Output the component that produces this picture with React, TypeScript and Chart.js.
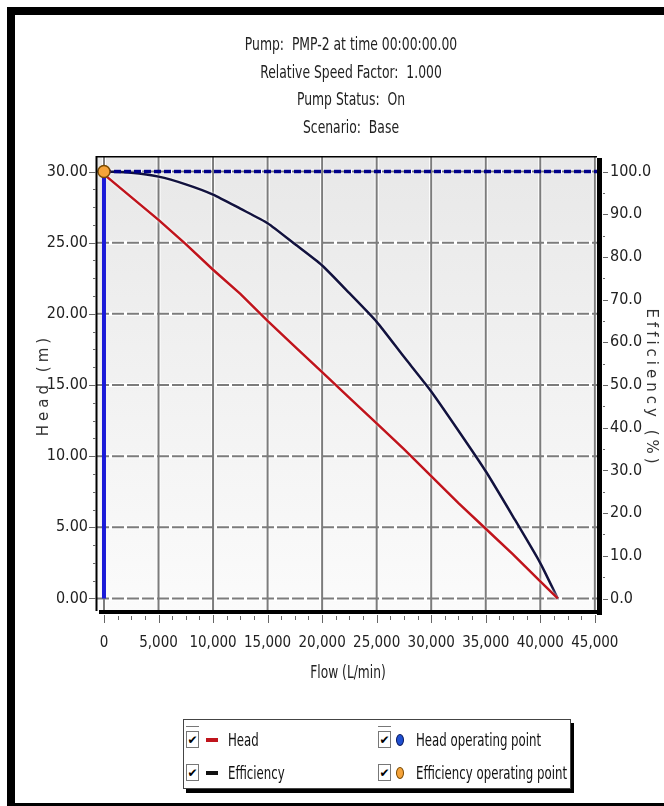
import React, { useEffect, useRef } from "react";
import { Chart, registerables } from "chart.js";

Chart.register(...registerables);

const titleLines = [
  "Pump:  PMP-2 at time 00:00:00.00",
  "Relative Speed Factor:  1.000",
  "Pump Status:  On",
  "Scenario:  Base",
];

const flowValues = [0, 2500, 5000, 7500, 10000, 12500, 15000, 17500, 20000, 22500, 25000, 27500, 30000, 32500, 35000, 37500, 40000, 41600];
const headValues = [29.8, 28.2, 26.6, 24.9, 23.1, 21.4, 19.5, 17.7, 15.9, 14.1, 12.3, 10.5, 8.6, 6.7, 4.9, 3.1, 1.2, 0];
const efficiencyValues = [100, 99.7, 98.8, 97.0, 94.6, 91.3, 87.9, 83.0, 78.0, 71.5, 64.8, 56.6, 48.5, 39.3, 29.8, 19.2, 8.3, 0];

const operatingFlow = 0;
const operatingHead = 30;
const operatingEfficiency = 100;

const flowTicks = [0, 5000, 10000, 15000, 20000, 25000, 30000, 35000, 40000, 45000];
const headTicks = [0, 5, 10, 15, 20, 25, 30];
const efficiencyTicks = [0, 10, 20, 30, 40, 50, 60, 70, 80, 90, 100];

const flowRange = [-640, 45200];
const headRange = [-0.81, 31.02];
const efficiencyRange = [-2.69, 103.4];

const flowMinorStep = 1250;
const headMinorStep = 1.25;
const efficiencyMinorStep = 5;

const legendItems = [
  { label: "Head", kind: "line", color: "#c0141c", col: 0, row: 0 },
  { label: "Efficiency", kind: "line", color: "#111111", col: 0, row: 1 },
  { label: "Head operating point", kind: "dot", color: "#1f4fd0", edge: "#0a1a60", col: 1, row: 0 },
  { label: "Efficiency operating point", kind: "dot", color: "#f5a33a", edge: "#7a4a00", col: 1, row: 1 },
];

const NARROW = '"Liberation Sans Narrow", "Arial Narrow", "DejaVu Sans Condensed", "Roboto Condensed", sans-serif';
const WIDE = '"DejaVu Sans", Verdana, sans-serif';

function minorValues(min: number, max: number, step: number, majors: number[]) {
  const out: number[] = [];
  const start = Math.ceil(min / step);
  const end = Math.floor(max / step);
  for (let k = start; k <= end; k++) {
    const v = k * step;
    if (!majors.some((m) => Math.abs(m - v) < step / 100)) out.push(v);
  }
  return out;
}

const pumpPlugin = {
  id: "pumpFrame",
  beforeDraw(chart: any) {
    const { ctx, chartArea: a, width, height } = chart;
    ctx.save();
    ctx.fillStyle = "#ffffff";
    ctx.fillRect(0, 0, width, height);
    ctx.fillStyle = "#000000";
    ctx.fillRect(7, 7, width - 7, 8);
    ctx.fillRect(7, 7, 8, height - 7);
    ctx.fillRect(7, height - 3, width - 7, 3);
    const g = ctx.createLinearGradient(0, a.top, 0, a.bottom);
    g.addColorStop(0, "#e8e8e8");
    g.addColorStop(1, "#fbfbfb");
    ctx.fillStyle = g;
    ctx.fillRect(a.left, a.top, a.right - a.left, a.bottom - a.top);
    ctx.restore();
  },
  beforeDatasetsDraw(chart: any) {
    const { ctx, chartArea: a, scales } = chart;
    const xs = scales.x.ticks.map((t: any) => scales.x.getPixelForValue(t.value));
    const ys = scales.y.ticks.map((t: any) => scales.y.getPixelForValue(t.value));
    ctx.save();
    ctx.strokeStyle = "#ffffff";
    ctx.lineWidth = 4;
    xs.forEach((px: number) => {
      ctx.beginPath();
      ctx.moveTo(px, a.top);
      ctx.lineTo(px, a.bottom);
      ctx.stroke();
    });
    ys.forEach((py: number) => {
      ctx.beginPath();
      ctx.moveTo(a.left, py);
      ctx.lineTo(a.right, py);
      ctx.stroke();
    });
    ctx.strokeStyle = "#7c7c7c";
    ctx.lineWidth = 2;
    xs.forEach((px: number) => {
      ctx.beginPath();
      ctx.moveTo(px, a.top);
      ctx.lineTo(px, a.bottom);
      ctx.stroke();
    });
    ctx.setLineDash([12, 3]);
    ys.forEach((py: number) => {
      ctx.beginPath();
      ctx.moveTo(a.left, py);
      ctx.lineTo(a.right, py);
      ctx.stroke();
    });
    ctx.restore();
  },
  beforeDatasetDraw(chart: any, args: any) {
    const ds = chart.data.datasets[args.index];
    chart.ctx.save();
    if (ds.glow) {
      chart.ctx.shadowColor = "rgba(255,255,255,1)";
      chart.ctx.shadowBlur = 3;
    }
  },
  afterDatasetDraw(chart: any) {
    chart.ctx.restore();
  },
  afterDatasetsDraw(chart: any) {
    const { ctx, chartArea: a, scales } = chart;
    ctx.save();
    ctx.fillStyle = "#000000";
    ctx.fillRect(a.left, a.top - 1, a.right - a.left, 1.5);
    ctx.fillRect(a.left - 1.5, a.top - 1, 2, a.bottom - a.top + 2);
    ctx.fillRect(a.right, a.top + 1, 5, a.bottom - a.top + 4);
    ctx.fillRect(a.left + 2, a.bottom, a.right - a.left + 3, 4);
    ctx.strokeStyle = "#666666";
    ctx.lineWidth = 1;
    const x = scales.x, y = scales.y, y1 = scales.y1;
    flowTicks.forEach((v) => {
      const px = Math.round(x.getPixelForValue(v)) + 0.5;
      ctx.beginPath(); ctx.moveTo(px, a.bottom + 5); ctx.lineTo(px, a.bottom + 13); ctx.stroke();
    });
    minorValues(x.min, x.max, flowMinorStep, flowTicks).forEach((v) => {
      const px = Math.round(x.getPixelForValue(v)) + 0.5;
      ctx.beginPath(); ctx.moveTo(px, a.bottom + 6); ctx.lineTo(px, a.bottom + 10); ctx.stroke();
    });
    headTicks.forEach((v) => {
      const py = Math.round(y.getPixelForValue(v)) + 0.5;
      ctx.beginPath(); ctx.moveTo(a.left - 8, py); ctx.lineTo(a.left - 1, py); ctx.stroke();
    });
    minorValues(y.min, y.max, headMinorStep, headTicks).forEach((v) => {
      const py = Math.round(y.getPixelForValue(v)) + 0.5;
      ctx.beginPath(); ctx.moveTo(a.left - 4, py); ctx.lineTo(a.left - 1, py); ctx.stroke();
    });
    efficiencyTicks.forEach((v) => {
      const py = Math.round(y1.getPixelForValue(v)) + 0.5;
      ctx.beginPath(); ctx.moveTo(a.right + 6, py); ctx.lineTo(a.right + 11, py); ctx.stroke();
    });
    minorValues(y1.min, y1.max, efficiencyMinorStep, efficiencyTicks).forEach((v) => {
      const py = Math.round(y1.getPixelForValue(v)) + 0.5;
      ctx.beginPath(); ctx.moveTo(a.right + 6, py); ctx.lineTo(a.right + 8, py); ctx.stroke();
    });
    ctx.restore();
  },
};

function Checkbox({ left, top, bar }: { left: number; top: number; bar: boolean }) {
  return (
    <div style={{ position: "absolute", left, top }}>
      {bar && <div style={{ position: "absolute", left: 0, top: -5, width: 13, height: 0, borderTop: "1px solid #777" }} />}
      <div
        style={{
          position: "absolute",
          left: 0,
          top: 0,
          width: 11,
          height: 15,
          border: "1px solid #777",
          background: "#fff",
          fontFamily: WIDE,
          fontSize: 12,
          fontWeight: "bold",
          lineHeight: "17px",
          textAlign: "center",
          color: "#000",
        }}
      >
        ✔
      </div>
    </div>
  );
}

export default function App() {
  const canvasRef = useRef<HTMLCanvasElement | null>(null);

  useEffect(() => {
    if (!canvasRef.current) return;
    const toPts = (ys: number[]) => flowValues.map((f, i) => ({ x: f, y: ys[i] }));
    const tickFont = { family: NARROW, size: 16 };
    const chart = new Chart(canvasRef.current, {
      type: "line",
      data: {
        datasets: [
          {
            label: "Efficiency operating point",
            type: "scatter",
            data: [{ x: operatingFlow, y: operatingEfficiency }],
            yAxisID: "y1",
            pointRadius: 6,
            backgroundColor: "#f5a33a",
            borderColor: "#7a4a00",
            borderWidth: 1.5,
            showLine: false,
          },
          {
            label: "Head operating point",
            type: "scatter",
            data: [{ x: operatingFlow, y: operatingHead }],
            yAxisID: "y",
            pointRadius: 5,
            backgroundColor: "#1f4fd0",
            borderColor: "#0a1a60",
            borderWidth: 1,
            showLine: false,
          },
          {
            label: "Head operating flow",
            data: [{ x: operatingFlow, y: 0 }, { x: operatingFlow, y: operatingHead }],
            yAxisID: "y",
            borderColor: "#1a1ad8",
            borderWidth: 4,
            pointRadius: 0,
          },
          {
            label: "Head operating head",
            data: [{ x: operatingFlow, y: operatingHead }, { x: flowRange[1], y: operatingHead }],
            yAxisID: "y",
            borderColor: "#000088",
            borderWidth: 3.5,
            borderDash: [7, 3],
            pointRadius: 0,
          },
          {
            label: "Head",
            data: toPts(headValues),
            yAxisID: "y",
            borderColor: "#c0141c",
            borderWidth: 2.5,
            pointRadius: 0,
            tension: 0,
            glow: true,
          } as any,
          {
            label: "Efficiency",
            data: toPts(efficiencyValues),
            yAxisID: "y1",
            borderColor: "#12123e",
            borderWidth: 2.5,
            pointRadius: 0,
            tension: 0.2,
            glow: true,
          } as any,
        ],
      },
      options: {
        responsive: false,
        animation: false,
        devicePixelRatio: 1,
        layout: { padding: { left: 0, right: 0, top: 157, bottom: 136 } },
        plugins: { legend: { display: false }, tooltip: { enabled: false }, title: { display: false } },
        scales: {
          x: {
            type: "linear",
            position: "bottom",
            min: flowRange[0],
            max: flowRange[1],
            grid: { display: false, drawTicks: false },
            border: { display: false },
            afterBuildTicks: (s: any) => { s.ticks = flowTicks.map((v) => ({ value: v })); },
            afterFit: (s: any) => { s.height = 60; },
            ticks: {
              font: { family: NARROW, size: 15 },
              color: "#222",
              padding: 24,
              maxRotation: 0,
              autoSkip: false,
              callback: (v: any) => Number(v).toLocaleString("en-US"),
            },
          },
          y: {
            type: "linear",
            position: "left",
            min: headRange[0],
            max: headRange[1],
            grid: { display: false, drawTicks: false },
            border: { display: false },
            afterBuildTicks: (s: any) => { s.ticks = headTicks.map((v) => ({ value: v })); },
            afterFit: (s: any) => { s.width = 97; },
            ticks: {
              font: tickFont,
              color: "#222",
              padding: 9,
              autoSkip: false,
              callback: (v: any) => Number(v).toFixed(2),
            },
          },
          y1: {
            type: "linear",
            position: "right",
            min: efficiencyRange[0],
            max: efficiencyRange[1],
            grid: { display: false, drawTicks: false },
            border: { display: false },
            afterBuildTicks: (s: any) => { s.ticks = efficiencyTicks.map((v) => ({ value: v })); },
            afterFit: (s: any) => { s.width = 67; },
            ticks: {
              font: tickFont,
              color: "#222",
              padding: 13,
              autoSkip: false,
              callback: (v: any) => Number(v).toFixed(1),
            },
          },
        },
      } as any,
      plugins: [pumpPlugin as any],
    });
    return () => chart.destroy();
  }, []);

  const rowY = [20, 53];
  const colX = [2, 194];

  return (
    <div style={{ position: "absolute", left: 0, top: 0, width: 664, height: 806, overflow: "hidden" }}>
      <canvas ref={canvasRef} width={664} height={806} style={{ position: "absolute", left: 0, top: 0, width: 664, height: 806 }} />
      {titleLines.map((t, i) => (
        <div
          key={i}
          style={{
            position: "absolute",
            left: 151,
            width: 400,
            top: 44 + i * 27.7 - 10,
            height: 20,
            lineHeight: "20px",
            textAlign: "center",
            fontFamily: NARROW,
            fontSize: 17,
            color: "#222",
            whiteSpace: "pre",
            transform: "scaleX(0.81)",
            transformOrigin: "center",
          }}
        >
          {t}
        </div>
      ))}
      <div
        style={{
          position: "absolute",
          left: 43 - 100,
          top: 385 - 10,
          width: 200,
          height: 20,
          lineHeight: "20px",
          textAlign: "center",
          transform: "rotate(-90deg)",
          fontFamily: WIDE,
          fontSize: 15,
          letterSpacing: "4px",
          color: "#333",
          whiteSpace: "pre",
        }}
      >
        Head (m)
      </div>
      <div
        style={{
          position: "absolute",
          left: 652 - 100,
          top: 388 - 10,
          width: 200,
          height: 20,
          lineHeight: "20px",
          textAlign: "center",
          transform: "rotate(90deg)",
          fontFamily: WIDE,
          fontSize: 15,
          letterSpacing: "4px",
          color: "#333",
          whiteSpace: "pre",
        }}
      >
        Efficiency (%)
      </div>
      <div
        style={{
          position: "absolute",
          left: 348 - 100,
          top: 672 - 10,
          width: 200,
          height: 20,
          lineHeight: "20px",
          textAlign: "center",
          fontFamily: NARROW,
          fontSize: 17,
          color: "#222",
          transform: "scaleX(0.8)",
        }}
      >
        Flow (L/min)
      </div>
      <div
        style={{
          position: "absolute",
          left: 183,
          top: 719,
          width: 388,
          height: 70,
          boxSizing: "border-box",
          border: "1px solid #444",
          boxShadow: "3px 4px 0 #000",
          background: "#fff",
        }}
      >
        {legendItems.map((it, i) => {
          const cx = colX[it.col];
          const cy = rowY[it.row];
          return (
            <React.Fragment key={i}>
              <Checkbox left={cx} top={cy - 9} bar={it.row === 0} />
              {it.kind === "line" ? (
                <div style={{ position: "absolute", left: cx + 20, top: cy - 2, width: 12, height: 4, background: it.color }} />
              ) : (
                <div
                  style={{
                    position: "absolute",
                    left: cx + 18,
                    top: cy - 6,
                    width: 6,
                    height: 10,
                    borderRadius: "50%",
                    background: it.color,
                    border: `1px solid ${(it as any).edge}`,
                  }}
                />
              )}
              <div
                style={{
                  position: "absolute",
                  left: cx + (it.kind === "line" ? 42 : 38),
                  top: cy - 11,
                  height: 22,
                  lineHeight: "22px",
                  fontFamily: NARROW,
                  fontSize: 17,
                  color: "#111",
                  whiteSpace: "nowrap",
                  transform: "scaleX(0.77)",
                  transformOrigin: "left center",
                }}
              >
                {it.label}
              </div>
            </React.Fragment>
          );
        })}
      </div>
    </div>
  );
}
